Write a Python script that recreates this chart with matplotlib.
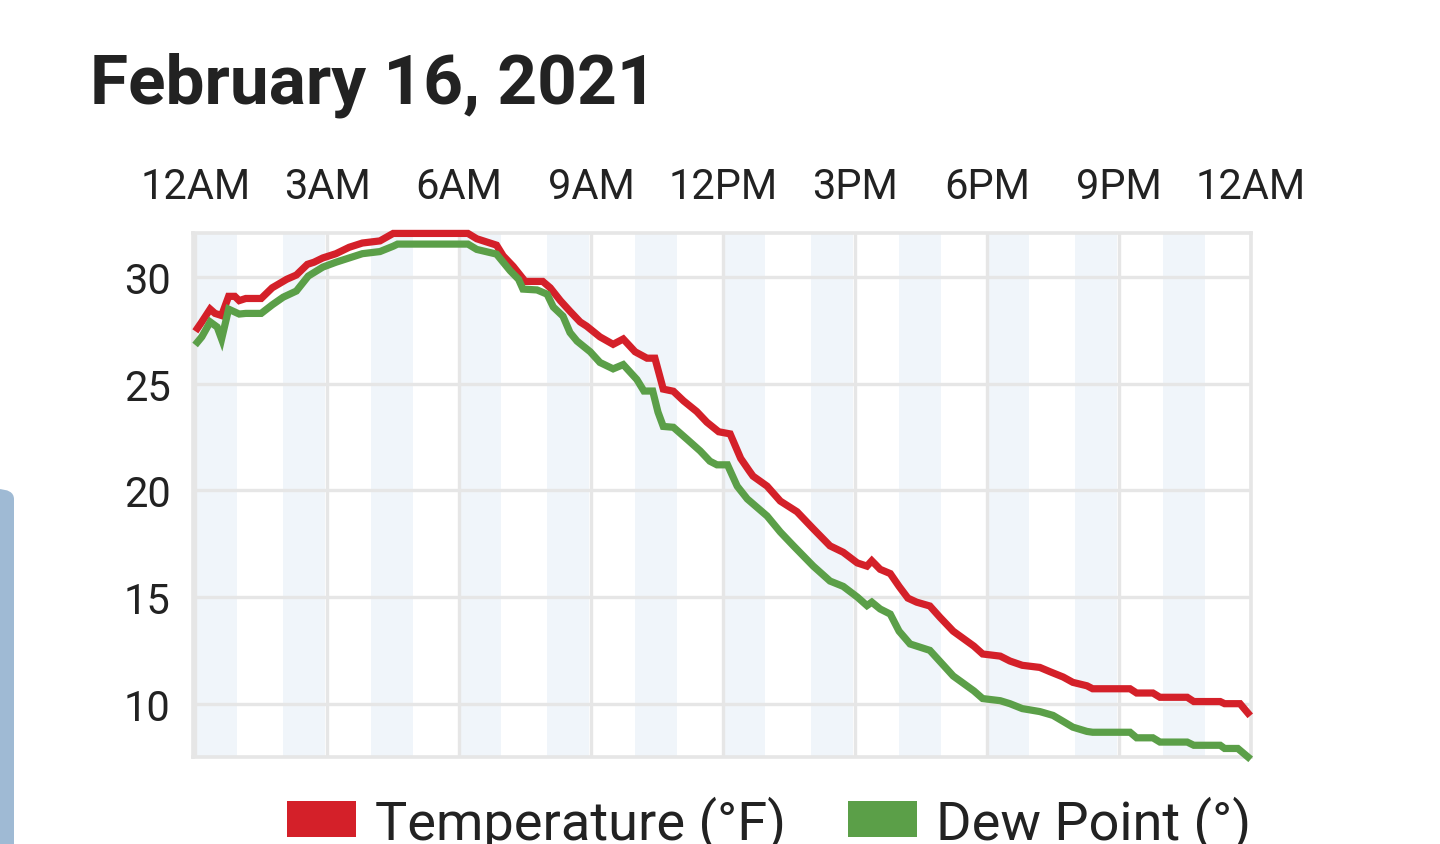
import matplotlib
matplotlib.use("Agg")
import matplotlib.pyplot as plt
from matplotlib.patches import Patch, FancyBboxPatch

title = "February 16, 2021"
tick_hours = [0, 3, 6, 9, 12, 15, 18, 21, 24]
tick_labels = ["12AM", "3AM", "6AM", "9AM", "12PM", "3PM", "6PM", "9PM", "12AM"]
y_ticks = [10, 15, 20, 25, 30]
band_starts = [0, 2, 4, 6, 8, 10, 12, 14, 16, 18, 20, 22]

temp_hours = [0.05, 0.15, 0.34, 0.45, 0.6, 0.76, 0.9, 1.0, 1.15, 1.5, 1.75, 2.08, 2.3,
              2.55, 2.7, 2.9, 3.2, 3.5, 3.8, 4.2, 4.5, 6.2, 6.4, 6.7, 6.85, 7.0, 7.23,
              7.5, 7.9, 8.07, 8.3, 8.52, 8.75, 8.9, 9.2, 9.5, 9.73, 10.0, 10.27, 10.45,
              10.64, 10.87, 11.1, 11.4, 11.63, 11.9, 12.16, 12.4, 12.6, 12.68, 13.0,
              13.3, 13.68, 14.05, 14.43, 14.73, 15.05, 15.27, 15.38, 15.57, 15.8, 16.0,
              16.2, 16.4, 16.7, 16.93, 17.23, 17.7, 17.9, 18.3, 18.52, 18.8, 19.2,
              19.43, 19.73, 19.95, 20.27, 20.4, 21.25, 21.4, 21.77, 21.93, 22.55, 22.7,
              23.3, 23.4, 23.75, 23.93]
temp_values = [27.6, 27.9, 28.5, 28.3, 28.2, 29.1, 29.1, 28.9, 29.0, 29.0, 29.5, 29.9, 30.1,
               30.6, 30.7, 30.9, 31.1, 31.4, 31.6, 31.7, 32.05, 32.05, 31.8, 31.6, 31.5,
               31.0, 30.5, 29.8, 29.8, 29.5, 28.9, 28.4, 27.9, 27.7, 27.2, 26.85, 27.1,
               26.5, 26.2, 26.2, 24.75, 24.65, 24.2, 23.7, 23.2, 22.75, 22.65, 21.5, 20.9,
               20.67, 20.2, 19.5, 19.0, 18.2, 17.4, 17.1, 16.6, 16.45, 16.7, 16.3, 16.1,
               15.5, 14.95, 14.76, 14.58, 14.05, 13.4, 12.7, 12.33, 12.23, 12.0, 11.8,
               11.7, 11.5, 11.25, 11.0, 10.84, 10.7, 10.7, 10.5, 10.5, 10.3, 10.3, 10.1,
               10.1, 10.0, 10.0, 9.56]

dew_hours = [0.05, 0.15, 0.34, 0.5, 0.6, 0.76, 1.0, 1.15, 1.5, 1.75, 2.0, 2.3, 2.57, 2.9,
             3.2, 3.5, 3.8, 4.2, 4.5, 4.6, 6.2, 6.4, 6.85, 7.16, 7.35, 7.45, 7.77, 8.0,
             8.14, 8.36, 8.52, 8.68, 8.98, 9.2, 9.5, 9.73, 10.04, 10.2, 10.4, 10.52,
             10.64, 10.87, 11.18, 11.48, 11.7, 11.86, 12.1, 12.32, 12.55, 13.0, 13.3,
             13.6, 14.05, 14.43, 14.73, 15.05, 15.27, 15.38, 15.57, 15.8, 16.0, 16.25,
             16.7, 17.23, 17.7, 17.9, 18.3, 18.52, 18.8, 19.2, 19.5, 19.73, 19.95, 20.27,
             20.4, 21.25, 21.4, 21.77, 21.93, 22.55, 22.7, 23.3, 23.4, 23.7, 23.93]
dew_values = [26.95, 27.2, 27.9, 27.66, 27.1, 28.5, 28.27, 28.3, 28.3, 28.7, 29.06, 29.35,
              30.05, 30.47, 30.7, 30.9, 31.1, 31.2, 31.45, 31.55, 31.55, 31.3, 31.08, 30.3,
              29.9, 29.44, 29.4, 29.2, 28.6, 28.17, 27.4, 27.0, 26.5, 26.0, 25.7, 25.9,
              25.2, 24.66, 24.66, 23.67, 23.0, 22.96, 22.4, 21.85, 21.37, 21.2, 21.2, 20.2,
              19.6, 18.8, 18.05, 17.4, 16.45, 15.75, 15.5, 15.0, 14.6, 14.76, 14.44, 14.2,
              13.4, 12.8, 12.5, 11.3, 10.6, 10.24, 10.14, 10.0, 9.77, 9.63, 9.45, 9.17,
              8.9, 8.7, 8.66, 8.66, 8.4, 8.4, 8.2, 8.2, 8.05, 8.05, 7.9, 7.9, 7.5]

series_names = ["Temperature (°F)", "Dew Point (°)"]
RED = "#d42029"
GREEN = "#5b9f48"
GRID = "#e6e6e6"
BAND = "#f0f5fa"
TXT = "#222222"

W, H = 1440, 845
fig = plt.figure(figsize=(W / 100, H / 100), dpi=100)
fig.patch.set_facecolor("white")

# side UI element
fig.patches.append(FancyBboxPatch((-20 / W, -20 / H), 34 / W, (845 - 490 + 20) / H,
                                  boxstyle="round,pad=0,rounding_size=0.012",
                                  transform=fig.transFigure, facecolor="#9fbad4",
                                  edgecolor="none", zorder=0))

ax = fig.add_axes([193 / W, (H - 758) / H, (1251 - 193) / W, (758 - 234) / H])
ax.set_xlim(-0.05, 24.0)
ax.set_ylim(7.5, 32.07)

for s in band_starts:
    ax.axvspan(s, s + 0.95, color=BAND, lw=0, zorder=0)

ax.set_xticks(tick_hours)
ax.set_xticklabels(tick_labels)
ax.set_yticks(y_ticks)
ax.xaxis.tick_top()
ax.tick_params(axis="x", length=0, pad=19, labelsize=30, labelcolor=TXT)
ax.tick_params(axis="y", length=0, pad=16, labelsize=30, labelcolor=TXT)
for lab in ax.get_xticklabels() + ax.get_yticklabels():
    lab.set_fontfamily("Roboto")

ax.grid(True, color=GRID, lw=2.4, zorder=1)
ax.set_axisbelow(True)
for sp in ax.spines.values():
    sp.set_color(GRID)
    sp.set_linewidth(2.6)

ax.plot(temp_hours, temp_values, color=RED, lw=5.2, zorder=3, clip_on=False,
        solid_joinstyle="miter")
ax.plot(dew_hours, dew_values, color=GREEN, lw=5.2, zorder=3, clip_on=False,
        solid_joinstyle="miter")

fig.text(90 / W, (H - 104) / H, title, fontsize=50, fontweight="bold",
         family="Roboto", color=TXT, va="baseline", ha="left")

handles = [Patch(facecolor=RED, edgecolor="none"), Patch(facecolor=GREEN, edgecolor="none")]
fig.legend(handles, series_names, loc="upper left", bbox_to_anchor=(287 / W, (H - 796) / H),
           ncol=2, frameon=False, borderpad=0, borderaxespad=0, handlelength=1.27,
           handleheight=0.64, handletextpad=0.35, columnspacing=1.15,
           prop={"family": "Roboto", "size": 39}, labelcolor=TXT)

fig.savefig("out.png", dpi=100, facecolor="white")
